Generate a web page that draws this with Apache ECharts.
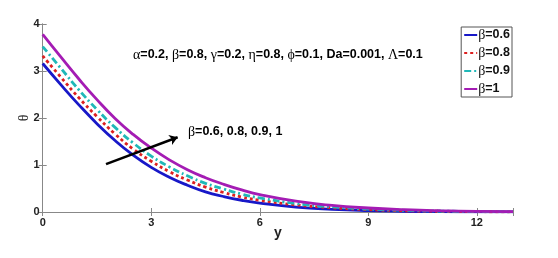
<!DOCTYPE html>
<html><head><meta charset="utf-8">
<script src="https://cdn.jsdelivr.net/npm/echarts@6/dist/echarts.min.js"></script>
<style>html,body{margin:0;padding:0;background:#fff}#c{width:558px;height:258px}</style>
</head><body><div id="c"></div>
<script>
const xs = [0,0.5,1,1.5,2,2.5,3,3.5,4,4.5,5,5.5,6,7,8,9,10,11,12,13];
const beta06 = [3.16,2.71,2.28,1.88,1.52,1.21,0.95,0.74,0.57,0.43,0.33,0.25,0.19,0.105,0.058,0.031,0.016,0.008,0.004,0.001];
const beta08 = [3.32,2.87,2.43,2.03,1.66,1.34,1.08,0.86,0.68,0.53,0.415,0.32,0.25,0.15,0.09,0.05,0.027,0.015,0.007,0.003];
const beta09 = [3.52,3.06,2.60,2.18,1.80,1.47,1.19,0.96,0.77,0.61,0.49,0.38,0.30,0.18,0.11,0.063,0.036,0.020,0.011,0.005];
const beta1  = [3.78,3.30,2.83,2.39,1.99,1.65,1.36,1.11,0.90,0.73,0.59,0.47,0.37,0.23,0.14,0.085,0.05,0.028,0.015,0.007];
const seriesNames = ['β=0.6','β=0.8','β=0.9','β=1'];
const xTicks = [0,3,6,9,12];
const yTicks = [0,1,2,3,4];
const arrowStart = [1.75,1.02];
const arrowEnd = [3.73,1.59];
const paramText = ['α','=0.2, ','β','=0.8, ','γ','=0.2, ','η','=0.8, ','ϕ','=0.1, Da=0.001, ','Λ','=0.1'];
const arrowLabel = ['β','=0.6, 0.8, 0.9, 1'];

const pair = arr => xs.map((x,i)=>[x,arr[i]]);
const sans = '"Liberation Sans", Arial, sans-serif';
const serif = '"Liberation Serif", "Times New Roman", serif';
const styles = [
  {color:'#1818c8', type:'solid'},
  {color:'#dd2020', type:[3,3]},
  {color:'#20b8b8', type:[7,3,2,3]},
  {color:'#a41cb4', type:'solid'}
];
const datas = [beta06,beta08,beta09,beta1];
const richGreek = {g:{fontFamily:serif,fontSize:14,fontWeight:'normal',color:'#111'},b:{fontFamily:sans,fontSize:12.5,fontWeight:'bold',color:'#111'}};
const richLegend = {g:{fontFamily:serif,fontSize:14,fontWeight:'normal',color:'#111'},b:{fontFamily:sans,fontSize:12.5,fontWeight:'bold',color:'#111'}};
const toRich = parts => parts.map((p,i)=> i%2===0 ? '{g|'+p+'}' : '{b|'+p+'}').join('');

const chart = echarts.init(document.getElementById('c'));
const axisCommon = {
  axisLine:{show:true,lineStyle:{color:'#888',width:1}},
  axisTick:{show:true,inside:true,length:4,lineStyle:{color:'#888'}},
  splitLine:{show:false}
};
const series = datas.map((d,i)=>({
  name: seriesNames[i], type:'line', data: pair(d), showSymbol:false, symbol:'none', smooth:true,
  lineStyle:{color:styles[i].color, width:2.8, type:styles[i].type},
  itemStyle:{color:styles[i].color}, z: 3
}));
series.push({
  type:'line', data:[], silent:true,
  markLine:{silent:true, symbol:['none','arrow'], symbolSize:[8,8],
    lineStyle:{color:'#000', width:2.5, type:'solid'}, label:{show:false},
    data:[[{coord:arrowStart},{coord:arrowEnd}]]}
});
chart.setOption({
  animation:false,
  grid:{left:42.7, top:24, right:45, bottom:46},
  legend:{
    data: seriesNames, orient:'vertical', right:46, top:27,
    backgroundColor:'#fff', borderColor:'#555', borderWidth:1, padding:[1,2,1,2],
    itemWidth:13, itemHeight:12, itemGap:4, itemStyle:{opacity:0},
    formatter: n => '{g|β}{b|'+n.slice(1)+'}',
    textStyle:{rich:richLegend, padding:[0,0,0,-4]}
  },
  xAxis:[
    Object.assign({type:'value', min:0, max:13, interval:3, position:'bottom',
      name:'y', nameLocation:'middle', nameGap:14, nameMoveOverlap:false,
      nameTextStyle:{fontFamily:sans, fontWeight:'bold', fontSize:14, color:'#222'},
      axisLabel:{fontFamily:sans, fontWeight:'bold', fontSize:11, color:'#222', margin:5,
        formatter: v => xTicks.includes(v) ? String(v) : ''}}, axisCommon),
    Object.assign({type:'value', min:0, max:13, interval:3, position:'top', axisLabel:{show:false}}, axisCommon)
  ],
  yAxis:[
    Object.assign({type:'value', min:0, max:4, interval:1, position:'left',
      name:'θ', nameLocation:'middle', nameGap:11, nameRotate:90, nameMoveOverlap:false,
      nameTextStyle:{fontFamily:serif, fontSize:14, color:'#222'},
      axisLabel:{fontFamily:sans, fontWeight:'bold', fontSize:11, color:'#222', margin:3,
        formatter: v => yTicks.includes(v) ? String(v) : ''}}, axisCommon),
    Object.assign({type:'value', min:0, max:4, interval:1, position:'right', axisLabel:{show:false}}, axisCommon)
  ],
  graphic:[
    {type:'text', left:133, top:48, style:{text:toRich(paramText), rich:richGreek}},
    {type:'text', left:188, top:125, style:{text:toRich(arrowLabel), rich:richGreek}}
  ],
  series: series
});
</script></body></html>
